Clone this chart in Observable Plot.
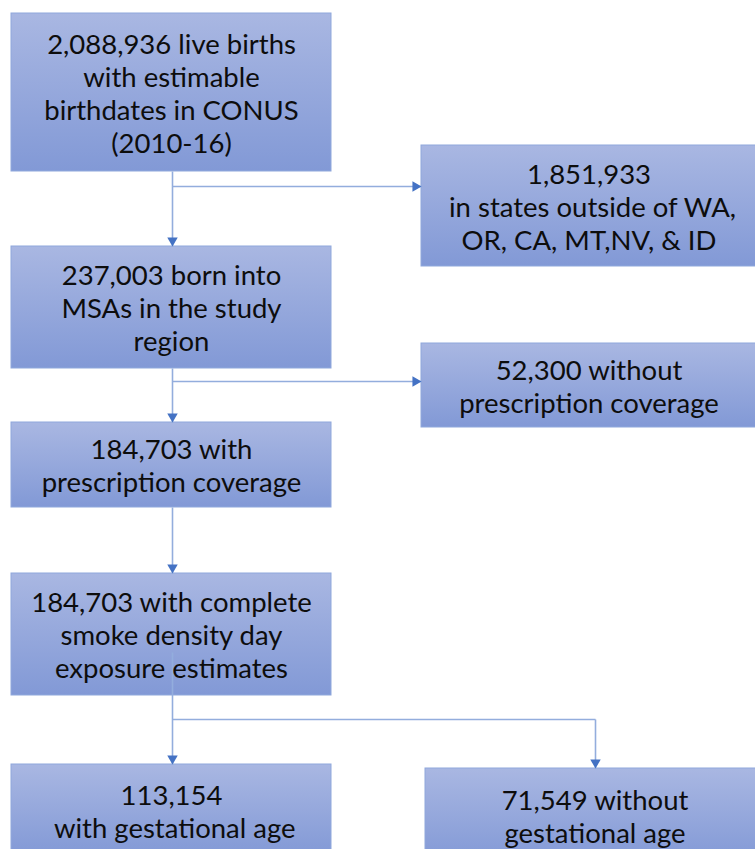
<!DOCTYPE html>
<html>
<head>
<meta charset="utf-8">
<script src="https://cdn.jsdelivr.net/npm/d3@7"></script>
<script src="https://cdn.jsdelivr.net/npm/@observablehq/plot@0.6"></script>
<style>
  html, body { margin: 0; padding: 0; background: #ffffff; }
  #chart svg { display: block; }
</style>
</head>
<body>
<div id="chart"></div>
<script>
// Box texts (flowchart nodes)
const boxLabels = [
  "2,088,936 live births\nwith estimable\nbirthdates in CONUS\n(2010-16)",
  "1,851,933\n in states outside of WA,\nOR, CA, MT,NV, & ID",
  "237,003 born into\nMSAs in the study\nregion",
  "52,300 without\nprescription coverage",
  "184,703 with\nprescription coverage",
  "184,703 with complete\nsmoke density day\nexposure estimates",
  "113,154\n with gestational age",
  "71,549 without\ngestational age"
];
// Node extents in diagram units
const boxLeft   = [11, 421, 11, 421, 11, 11, 11, 425];
const boxRight  = [331, 756, 331, 756, 331, 331, 331, 764];
const boxTop    = [13, 145, 246, 343, 422, 573, 764, 768];
const boxBottom = [171, 266, 368, 427, 507, 695, 856, 862];

// Connector segments in diagram units; arrow: "down" | "right" | ""
const segX1 = [172, 172, 172, 172, 172, 172, 172, 595];
const segY1 = [171, 186, 368, 381, 507, 652, 719, 719];
const segX2 = [172, 421, 172, 421, 172, 172, 595, 595];
const segY2 = [246, 186, 422, 381, 573, 764, 719, 768];
const segArrow = ["down", "right", "down", "right", "down", "down", "", "down"];

const boxes = boxLabels.map((label, i) => ({
  label, x1: boxLeft[i], x2: boxRight[i], y1: boxTop[i], y2: boxBottom[i],
  cx: (boxLeft[i] + boxRight[i]) / 2, cy: (boxTop[i] + boxBottom[i]) / 2
}));
const segs = segX1.map((_, i) => ({
  x1: segX1[i], y1: segY1[i], x2: segX2[i], y2: segY2[i], arrow: segArrow[i]
}));

const W = 755, H = 849;
const chart = Plot.plot({
  width: W,
  height: H,
  margin: 0,
  style: { fontFamily: "Lato, 'Open Sans', sans-serif", background: "#ffffff" },
  x: { domain: [0, W], range: [0, W], axis: null },
  y: { domain: [0, H], range: [0, H], axis: null },
  marks: [
    Plot.rect(boxes, {
      x1: "x1", x2: "x2", y1: "y1", y2: "y2",
      fill: "url(#boxGrad)", stroke: "#8fa8dc", strokeWidth: 1
    }),
    Plot.link(segs, {
      x1: "x1", y1: "y1", x2: "x2", y2: "y2",
      stroke: "#93addd", strokeWidth: 1.6
    }),
    Plot.dot(segs.filter(d => d.arrow === "down"), {
      x: "x2", y: "y2", dy: -6, symbol: "triangle", r: 3.9, rotate: 180,
      fill: "#4472c4", stroke: null
    }),
    Plot.dot(segs.filter(d => d.arrow === "right"), {
      x: "x2", y: "y2", dx: -6, symbol: "triangle", r: 3.9, rotate: 90,
      fill: "#4472c4", stroke: null
    }),
    Plot.text(boxes, {
      x: "cx", y: "cy", text: "label",
      fontSize: 27.5, lineHeight: 1.2, fill: "#0d0d0d",
      textAnchor: "middle", lineAnchor: "middle"
    })
  ]
});

// gradient definition used by the node fills
const svg = d3.select(chart);
const defs = svg.insert("defs", ":first-child");
const grad = defs.append("linearGradient")
  .attr("id", "boxGrad").attr("x1", 0).attr("y1", 0).attr("x2", 0).attr("y2", 1);
grad.append("stop").attr("offset", "0%").attr("stop-color", "#a9b7e2");
grad.append("stop").attr("offset", "100%").attr("stop-color", "#8299d6");

document.getElementById("chart").appendChild(chart);
</script>
</body>
</html>
